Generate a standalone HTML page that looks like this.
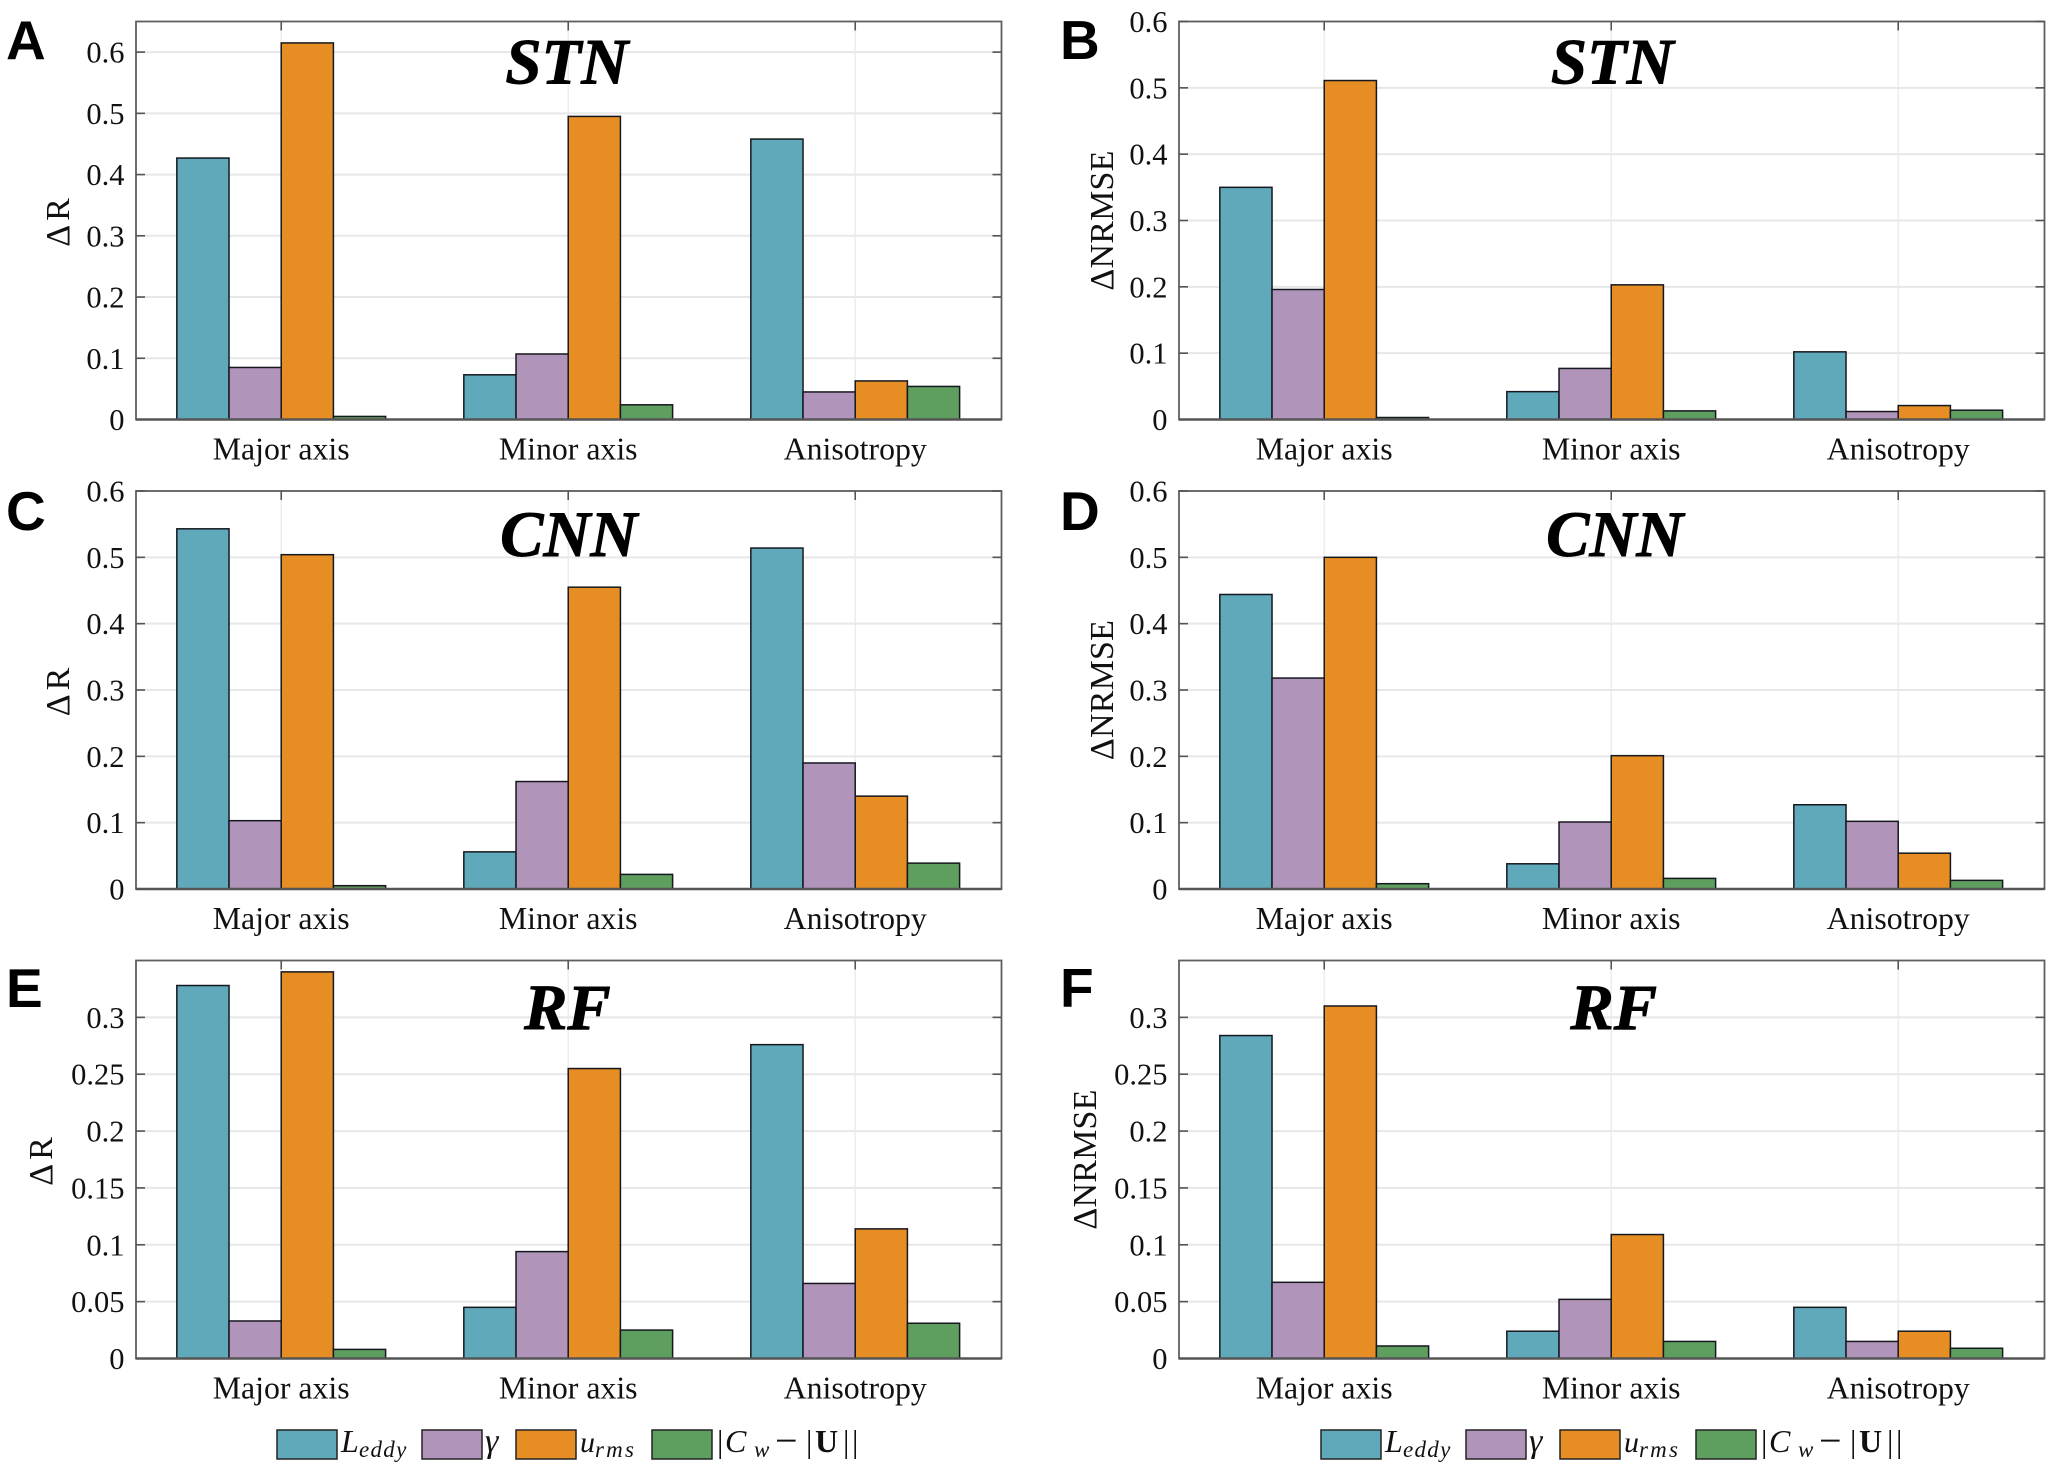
<!DOCTYPE html>
<html lang="en">
<head>
<meta charset="utf-8">
<title>Delta R and Delta NRMSE bar charts</title>
<style>
html,body{margin:0;padding:0;background:#fff;width:2054px;height:1470px;overflow:hidden}
svg{display:block}
text{font-family:"Liberation Serif","Times New Roman",serif;fill:#111}
</style>
</head>
<body>
<svg id="figure" xmlns="http://www.w3.org/2000/svg" width="2054" height="1470" viewBox="0 0 2054 1470"></svg>
<script>
const categories = ['Major axis', 'Minor axis', 'Anisotropy'];
const seriesKeys = ['leddy', 'gamma', 'urms', 'cw'];

const stnRLeddy = [0.427, 0.073, 0.458];
const stnRGamma = [0.085, 0.107, 0.045];
const stnRUrms = [0.615, 0.495, 0.063];
const stnRCw = [0.005, 0.024, 0.054];

const stnNrmseLeddy = [0.350, 0.042, 0.102];
const stnNrmseGamma = [0.196, 0.077, 0.012];
const stnNrmseUrms = [0.511, 0.203, 0.021];
const stnNrmseCw = [0.003, 0.013, 0.014];

const cnnRLeddy = [0.543, 0.056, 0.514];
const cnnRGamma = [0.103, 0.162, 0.190];
const cnnRUrms = [0.504, 0.455, 0.140];
const cnnRCw = [0.005, 0.022, 0.039];

const cnnNrmseLeddy = [0.444, 0.038, 0.127];
const cnnNrmseGamma = [0.318, 0.101, 0.102];
const cnnNrmseUrms = [0.500, 0.201, 0.054];
const cnnNrmseCw = [0.008, 0.016, 0.013];

const rfRLeddy = [0.328, 0.045, 0.276];
const rfRGamma = [0.033, 0.094, 0.066];
const rfRUrms = [0.340, 0.255, 0.114];
const rfRCw = [0.008, 0.025, 0.031];

const rfNrmseLeddy = [0.284, 0.024, 0.045];
const rfNrmseGamma = [0.067, 0.052, 0.015];
const rfNrmseUrms = [0.310, 0.109, 0.024];
const rfNrmseCw = [0.011, 0.015, 0.009];

const ticksTenths = [0, 0.1, 0.2, 0.3, 0.4, 0.5, 0.6];
const ticksTenthsLabels = ['0', '0.1', '0.2', '0.3', '0.4', '0.5', '0.6'];
const ticksTwentieths = [0, 0.05, 0.1, 0.15, 0.2, 0.25, 0.3];
const ticksTwentiethsLabels = ['0', '0.05', '0.1', '0.15', '0.2', '0.25', '0.3'];

const seriesColors = { leddy: '#5fa9bb', gamma: '#b194ba', urms: '#e68d23', cw: '#5e9f5f' };

const panels = [
  { id: 'a', letter: 'A', letterX: 6, letterY: 59, title: 'STN', titleDx: -2, titleDy: 62, ylabel: 'ΔR', ylabelX: 69, left: 136, top: 21.5, yMax: 0.65,
    ticks: ticksTenths, tickLabels: ticksTenthsLabels, series: [stnRLeddy, stnRGamma, stnRUrms, stnRCw] },
  { id: 'b', letter: 'B', letterX: 1060, letterY: 59, title: 'STN', titleDx: 0.5, titleDy: 62, ylabel: 'ΔNRMSE', ylabelX: 1113, left: 1179, top: 21.5, yMax: 0.6,
    ticks: ticksTenths, tickLabels: ticksTenthsLabels, series: [stnNrmseLeddy, stnNrmseGamma, stnNrmseUrms, stnNrmseCw] },
  { id: 'c', letter: 'C', letterX: 6, letterY: 530, title: 'CNN', titleDx: 0, titleDy: 65, ylabel: 'ΔR', ylabelX: 69, left: 136, top: 491, yMax: 0.6,
    ticks: ticksTenths, tickLabels: ticksTenthsLabels, series: [cnnRLeddy, cnnRGamma, cnnRUrms, cnnRCw] },
  { id: 'd', letter: 'D', letterX: 1060, letterY: 530, title: 'CNN', titleDx: 3, titleDy: 65, ylabel: 'ΔNRMSE', ylabelX: 1113, left: 1179, top: 491, yMax: 0.6,
    ticks: ticksTenths, tickLabels: ticksTenthsLabels, series: [cnnNrmseLeddy, cnnNrmseGamma, cnnNrmseUrms, cnnNrmseCw] },
  { id: 'e', letter: 'E', letterX: 6, letterY: 1007, title: 'RF', titleDx: -1.3, titleDy: 68.5, ylabel: 'ΔR', ylabelX: 52, left: 136, top: 960.5, yMax: 0.35,
    ticks: ticksTwentieths, tickLabels: ticksTwentiethsLabels, series: [rfRLeddy, rfRGamma, rfRUrms, rfRCw] },
  { id: 'f', letter: 'F', letterX: 1060, letterY: 1007, title: 'RF', titleDx: 2, titleDy: 68.5, ylabel: 'ΔNRMSE', ylabelX: 1096, left: 1179, top: 960.5, yMax: 0.35,
    ticks: ticksTwentieths, tickLabels: ticksTwentiethsLabels, series: [rfNrmseLeddy, rfNrmseGamma, rfNrmseUrms, rfNrmseCw] }
];

const plotWidth = 865.5;
const plotHeight = 398;
const xBand = 287;
const xMin = 0.494;
const groupFraction = 0.7275;
const NS = 'http://www.w3.org/2000/svg';
const svg = document.getElementById('figure');

function make(tag, attrs, parent, content) {
  const node = document.createElementNS(NS, tag);
  for (const k in attrs) node.setAttribute(k, attrs[k]);
  if (content !== undefined) node.textContent = content;
  parent.appendChild(node);
  return node;
}

function drawPanel(p) {
  const xCenter = i => p.left + (i + 1 - xMin) * xBand;
  const barWidth = xBand * groupFraction / seriesKeys.length;
  const xBar = (i, s) => xCenter(i) + (s - seriesKeys.length / 2) * barWidth;
  const bottom = p.top + plotHeight;
  const yScale = v => bottom - (v / p.yMax) * plotHeight;
  const right = p.left + plotWidth;

  const g = make('g', {}, svg);
  
  

  p.ticks.forEach((t, k) => {
    if (t > 0) {
      const grid = make('line', { x1: p.left, x2: right, y1: yScale(t), y2: yScale(t), stroke: '#e7e7e7', 'stroke-width': 2 }, g);
      
      
    }
  });
  categories.forEach((c, i) => {
    const vgrid = make('line', { x1: xCenter(i), x2: xCenter(i), y1: p.top, y2: bottom, stroke: '#e9e9e9', 'stroke-width': 1.2 }, g);
    
    
  });

  p.series.forEach((values, s) => {
    values.forEach((v, i) => {
      const bar = make('rect', {
        x: xBar(i, s), y: yScale(v), width: barWidth, height: bottom - yScale(v),
        fill: seriesColors[seriesKeys[s]], stroke: '#16181f', 'stroke-width': 1.5
      }, g);
      
      
    });
  });

  const frame = make('rect', { x: p.left, y: p.top, width: plotWidth, height: plotHeight, fill: 'none', stroke: '#5f5f5f', 'stroke-width': 1.8 }, g);
  
  
  const baseLine = make('line', { x1: p.left, x2: right, y1: bottom, y2: bottom, stroke: '#555', 'stroke-width': 2.4 }, g);
  
  

  p.ticks.forEach((t, k) => {
    const y = yScale(t);
    const tickL = make('line', { x1: p.left, x2: p.left + 9, y1: y, y2: y, stroke: '#555', 'stroke-width': 1.6 }, g);
    
    
    const tickR = make('line', { x1: right - 9, x2: right, y1: y, y2: y, stroke: '#555', 'stroke-width': 1.6 }, g);
    
    
    const label = make('text', { x: p.left - 11.5, y: y + 10.5, 'text-anchor': 'end', 'font-size': 30.5 }, g, p.tickLabels[k]);
    
    
  });

  categories.forEach((c, i) => {
    const x = xCenter(i);
    const tickT = make('line', { x1: x, x2: x, y1: p.top, y2: p.top + 9, stroke: '#555', 'stroke-width': 1.6 }, g);
    
    
    const label = make('text', { x: x, y: bottom + 40, 'text-anchor': 'middle', 'font-size': 31.8 }, g, c);
    
    
  });

  const yTitle = make('text', {
    x: 0, y: 0, 'text-anchor': 'middle', 'font-size': 34,
    'letter-spacing': p.ylabel === 'ΔR' ? 4 : 0.2,
    transform: 'translate(' + p.ylabelX + ',' + (p.top + plotHeight / 2) + ') rotate(-90)'
  }, g, p.ylabel);
  
  

  const title = make('text', {
    x: p.left + plotWidth / 2 + p.titleDx, y: p.top + p.titleDy, 'text-anchor': 'middle',
    'font-size': 65, 'font-weight': 'bold', 'font-style': 'italic',
    style: 'fill:#000;stroke:#000;stroke-width:0.9'
  }, g, p.title);
  
  

  const letter = make('text', {
    x: p.letterX, y: p.letterY, 'font-size': 55, 'font-weight': 'bold',
    style: 'font-family:"Liberation Sans",Arial,sans-serif;fill:#000'
  }, g, p.letter);
  
  
}

function drawLegend(ox, suffix) {
  const g = make('g', { transform: 'translate(' + ox + ',0)' }, svg);
  
  
  const swatchX = { leddy: 277, gamma: 422, urms: 516, cw: 652 };
  seriesKeys.forEach(k => {
    const sw = make('rect', { x: swatchX[k], y: 1430, width: 60, height: 29, fill: seriesColors[k], stroke: '#222', 'stroke-width': 1.5 }, g);
    
    
  });

  const t1 = make('text', { 'font-size': 32, y: 1452 }, g);
  
  
  make('tspan', { x: 341, 'font-style': 'italic' }, t1, 'L');
  make('tspan', { x: 359, y: 1457, 'font-size': 23, 'font-style': 'italic', 'letter-spacing': 1.3 }, t1, 'eddy');

  const t2 = make('text', { 'font-size': 34, y: 1452, x: 485, 'font-style': 'italic' }, g, 'γ');
  
  

  const t3 = make('text', { 'font-size': 30, y: 1452 }, g);
  
  
  make('tspan', { x: 580, 'font-style': 'italic' }, t3, 'u');
  make('tspan', { x: 595, y: 1457, 'font-size': 23, 'font-style': 'italic', 'letter-spacing': 2.2 }, t3, 'rms');

  const t4 = make('text', { 'font-size': 32, y: 1452 }, g);
  
  
  make('tspan', { x: 717 }, t4, '|');
  make('tspan', { x: 725, 'font-style': 'italic' }, t4, 'C');
  make('tspan', { x: 754, y: 1457, 'font-size': 23, 'font-style': 'italic' }, t4, 'w');
  make('tspan', { x: 775, y: 1454, 'font-size': 40 }, t4, '−');
  make('tspan', { x: 806, y: 1452 }, t4, '|');
  make('tspan', { x: 815, 'font-weight': 'bold' }, t4, 'U');
  make('tspan', { x: 843 }, t4, '|');
  make('tspan', { x: 852 }, t4, '|');
}

panels.forEach(drawPanel);
drawLegend(0, 'left');
drawLegend(1044, 'right');
</script>
</body>
</html>
